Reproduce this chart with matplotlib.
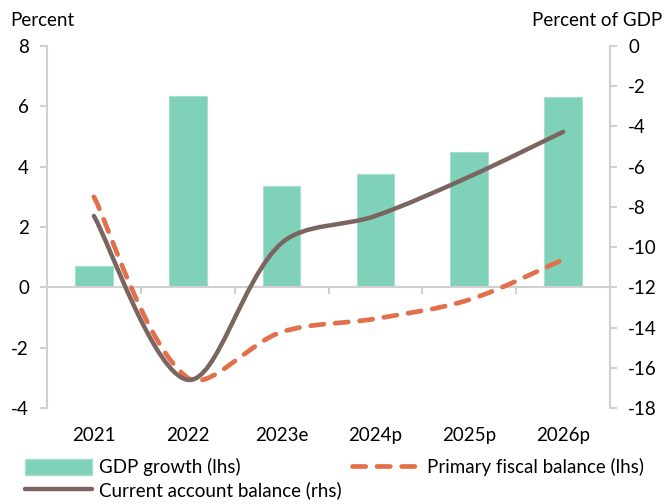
import numpy as np
import matplotlib.pyplot as plt
from matplotlib.path import Path
from matplotlib.patches import PathPatch, Patch
from matplotlib.lines import Line2D

# data
years = ["2021", "2022", "2023e", "2024p", "2025p", "2026p"]
gdp_growth = [0.7, 6.35, 3.35, 3.75, 4.5, 6.3]           # lhs, bars
primary_balance = [3.0, -3.0, -1.48, -1.04, -0.41, 0.92]  # lhs, dashed
current_account = [-8.45, -16.6, -9.8, -8.45, -6.5, -4.27]  # rhs

teal = "#7fd1b9"
orange = "#e2704b"
brown = "#7a6561"
grey = "#d0d0d0"

plt.rcParams["font.family"] = ["Lato", "DejaVu Sans"]
plt.rcParams["font.size"] = 13.5
plt.rcParams["axes.unicode_minus"] = False


def smooth_path(ax, xs, ys, tension=1 / 3):
    # Excel-like smoothed line: cubic bezier segments, control points in pixel space
    pts = ax.transData.transform(np.column_stack([xs, ys]))
    n = len(pts)
    verts = [pts[0]]
    codes = [Path.MOVETO]
    d = [np.hypot(*(pts[i + 1] - pts[i])) for i in range(n - 1)]
    for i in range(n - 1):
        p1, p2 = pts[i], pts[i + 1]
        p0 = pts[i - 1] if i > 0 else p1
        p3 = pts[i + 2] if i + 2 < n else p2
        d0 = d[i - 1] if i > 0 else d[i]
        d2 = d[i + 1] if i + 2 < n else d[i]
        c1 = p1 + (p2 - p0) * tension * d[i] / (d0 + d[i])
        c2 = p2 - (p3 - p1) * tension * d[i] / (d[i] + d2)
        verts += [c1, c2, p2]
        codes += [Path.CURVE4] * 3
    verts = ax.transData.inverted().transform(np.array(verts))
    return Path(verts, codes)


fig = plt.figure(figsize=(6.65, 5.04), dpi=100)
ax = fig.add_axes([47 / 665, 1 - 408 / 504, 563 / 665, 362 / 504])
ax2 = ax.twinx()

x = np.arange(len(years))
ax.bar(x, gdp_growth, width=0.4, color=teal, edgecolor="#a6e0cf",
       linewidth=0.8, zorder=2)

ax.set_xlim(-0.5, len(years) - 0.5)
ax.set_ylim(-4, 8)
ax.set_yticks(range(-4, 9, 2))
ax2.set_ylim(-18, 0)
ax2.set_yticks(range(-18, 1, 2))

# category axis crosses at 0, labels stay at the bottom
ax.spines["bottom"].set_position(("data", 0))
ax.set_xticks(x[:-1] + 0.5)
ax.set_xticklabels([])
ax.tick_params(axis="x", direction="out", length=5, color=grey, width=1.5)
sec = ax.secondary_xaxis("bottom")
sec.set_xticks(x)
sec.set_xticklabels(years)
sec.tick_params(length=0, pad=14)
sec.spines["bottom"].set_visible(False)

for a in (ax, ax2):
    a.spines["top"].set_visible(False)
    for s in ("left", "right", "bottom"):
        a.spines[s].set_color(grey)
        a.spines[s].set_linewidth(1.5)
ax2.spines["bottom"].set_visible(False)
ax.spines["right"].set_visible(False)
ax2.spines["left"].set_visible(False)
ax.tick_params(axis="y", direction="out", length=5, color=grey, width=1.5,
               pad=8)
ax2.tick_params(axis="y", direction="out", length=5, color=grey, width=1.5,
                pad=8)

dash = (0, (2.8, 2.4))
pf = PathPatch(smooth_path(ax, x, primary_balance), fill=False,
               edgecolor=orange, linewidth=3.4, linestyle=dash,
               capstyle="round", zorder=3)
ax.add_patch(pf)
ca = PathPatch(smooth_path(ax2, x, current_account), fill=False,
               edgecolor=brown, linewidth=3.2, capstyle="round", zorder=3)
ax2.add_patch(ca)

fig.text(10 / 665, 1 - 20 / 504, "Percent", ha="left", va="center")
fig.text(662 / 665, 1 - 20 / 504, "Percent of GDP", ha="right", va="center")

handles = [
    Patch(facecolor=teal, edgecolor="#a6e0cf"),
    Line2D([], [], color=brown, lw=3.2, solid_capstyle="round"),
    Line2D([], [], color=orange, lw=3.4, linestyle=dash,
           dash_capstyle="round"),
]
labels = ["GDP growth (lhs)", "Current account balance (rhs)",
          "Primary fiscal balance (lhs)"]
fig.legend(handles, labels, ncol=2, loc="lower left",
           bbox_to_anchor=(0.02, -0.012), frameon=False, handlelength=3.6,
           handleheight=0.9, handletextpad=0.35, labelspacing=0.25,
           columnspacing=0.6, borderaxespad=0.2)

fig.savefig("out.png", dpi=100)
